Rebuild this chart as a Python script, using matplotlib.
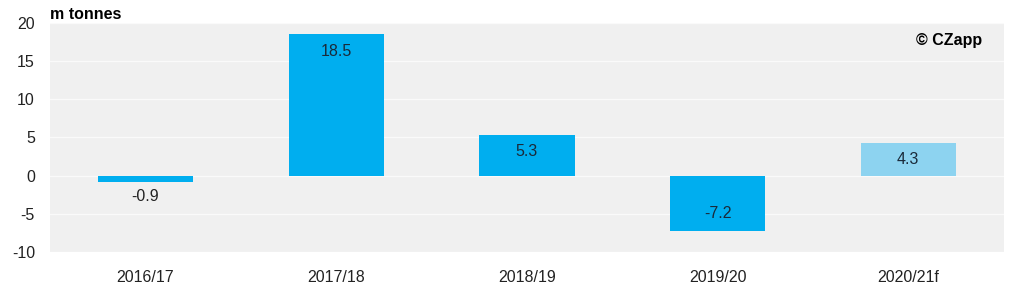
import matplotlib.pyplot as plt

plt.rcParams['font.family'] = ['Liberation Sans', 'DejaVu Sans']
plt.rcParams['axes.unicode_minus'] = False

seasons = ['2016/17', '2017/18', '2018/19', '2019/20', '2020/21f']
values = [-0.9, 18.5, 5.3, -7.2, 4.3]
forecast = [False, False, False, False, True]
yticks = [-10, -5, 0, 5, 10, 15, 20]

fig = plt.figure(figsize=(10.24, 2.94), dpi=100)
ax = fig.add_axes([0.049, 0.143, 0.931, 0.779])
ax.set_facecolor('#f0f0f0')

colors = ['#8dd3f0' if f else '#00aeef' for f in forecast]
x = list(range(len(seasons)))
ax.bar(x, values, width=0.5, color=colors, zorder=2)

ax.set_xlim(-0.5, len(seasons) - 0.5)
ax.set_ylim(-10, 20)
ax.set_yticks(yticks)
ax.set_xticks(x)
ax.set_xticklabels(seasons)
ax.tick_params(length=0, labelsize=11.5, colors='#222222')
ax.tick_params(axis='x', pad=13)
ax.tick_params(axis='y', pad=11)
for s in ax.spines.values():
    s.set_visible(False)
ax.yaxis.grid(True, color='#fafafa', linewidth=1, zorder=1)

for xi, v in zip(x, values):
    if abs(v) < 2:
        ax.annotate(f'{v:.1f}', (xi, v), xytext=(0, -10 if v < 0 else 10),
                    textcoords='offset points', ha='center', va='center',
                    fontsize=11.5, color='#222222')
    else:
        ax.annotate(f'{v:.1f}', (xi, v), xytext=(0, -12 if v > 0 else 12),
                    textcoords='offset points', ha='center', va='center',
                    fontsize=11.5, color='#1a2a3a')

fig.text(0.049, 0.95, 'm tonnes', fontsize=11.5, fontweight='bold', ha='left', va='center')
ax.text(0.978, 0.925, '© CZapp', transform=ax.transAxes, fontsize=11.5,
        fontweight='bold', ha='right', va='center')

fig.savefig('out.png', dpi=100)
